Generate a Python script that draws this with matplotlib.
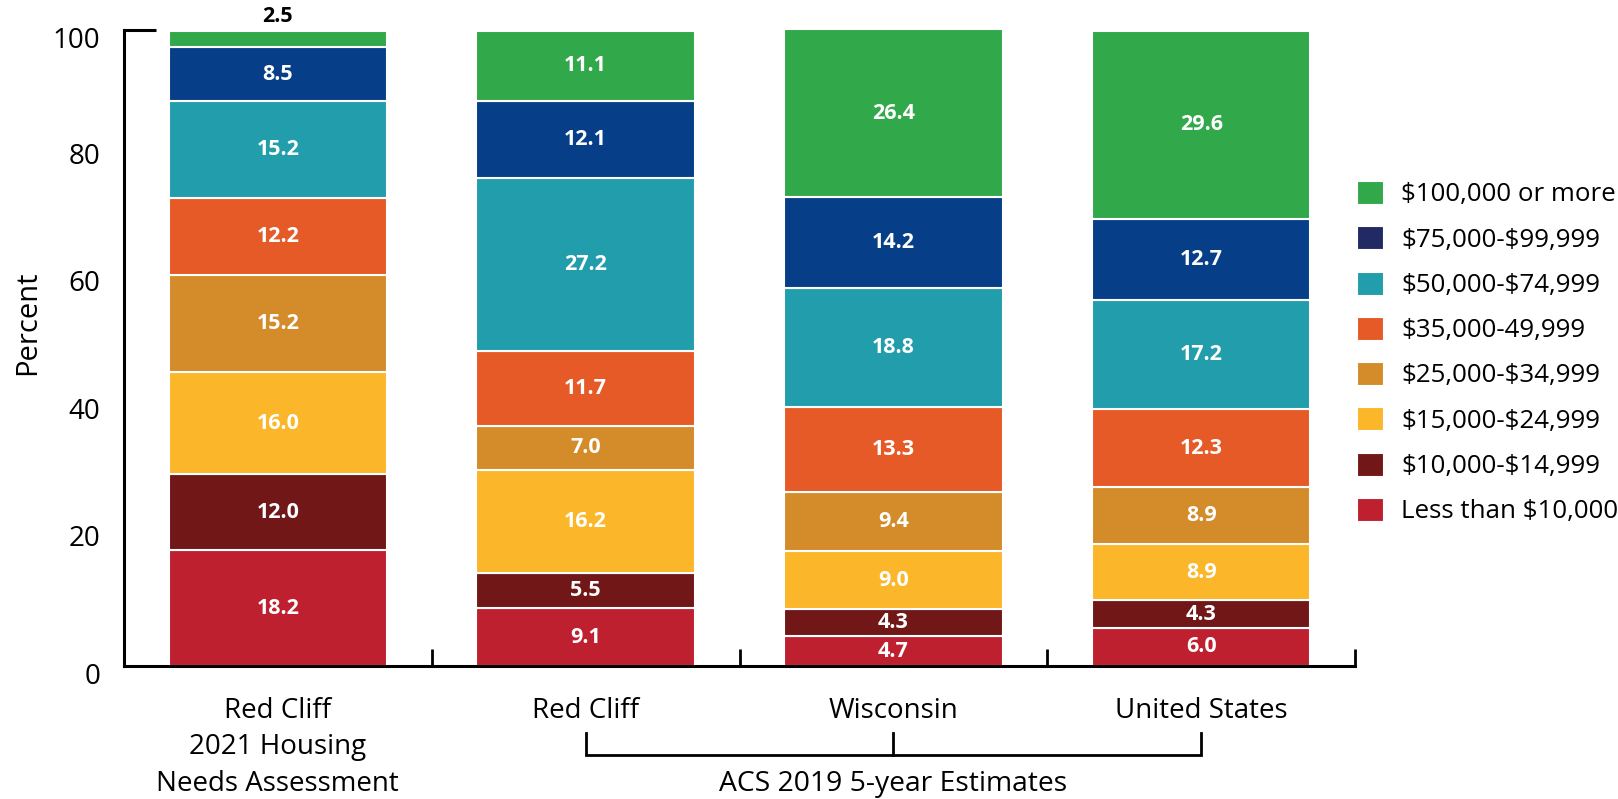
import matplotlib
matplotlib.use("Agg")
import matplotlib.pyplot as plt
from matplotlib.patches import Patch
from matplotlib.transforms import offset_copy, blended_transform_factory
import numpy as np

plt.rcParams['font.family'] = ['Open Sans', 'DejaVu Sans']

categories = ["Red Cliff\n2021 Housing\nNeeds Assessment", "Red Cliff", "Wisconsin", "United States"]
income_groups = ["Less than $10,000", "$10,000-$14,999", "$15,000-$24,999", "$25,000-$34,999",
                 "$35,000-49,999", "$50,000-$74,999", "$75,000-$99,999", "$100,000 or more"]
less_10k = [18.2, 9.1, 4.7, 6.0]
inc_10_15k = [12.0, 5.5, 4.3, 4.3]
inc_15_25k = [16.0, 16.2, 9.0, 8.9]
inc_25_35k = [15.2, 7.0, 9.4, 8.9]
inc_35_50k = [12.2, 11.7, 13.3, 12.3]
inc_50_75k = [15.2, 27.2, 18.8, 17.2]
inc_75_100k = [8.5, 12.1, 14.2, 12.7]
over_100k = [2.5, 11.1, 26.4, 29.6]
series = [less_10k, inc_10_15k, inc_15_25k, inc_25_35k, inc_35_50k, inc_50_75k, inc_75_100k, over_100k]
bar_colors = ["#be2030", "#711718", "#fbb62a", "#d48b2a", "#e55a26", "#219dab", "#063f87", "#31a84a"]
legend_colors = ["#be2030", "#711718", "#fbb62a", "#d48b2a", "#e55a26", "#219dab", "#222a63", "#31a84a"]
y_ticks = [0, 20, 40, 60, 80, 100]
group_label = "ACS 2019 5-year Estimates"

fig = plt.figure(figsize=(16.18, 7.99), dpi=100)
ax = fig.add_axes([0.0766, 0.1665, 0.8375 - 0.0766, 0.9625 - 0.1665])

x = np.arange(len(categories))
bottom = np.zeros(len(categories))
for vals, col in zip(series, bar_colors):
    vals = np.array(vals)
    ax.bar(x, vals, bottom=bottom, width=0.71, color=col, edgecolor="white", linewidth=1.5)
    for xi, v, b in zip(x, vals, bottom):
        if v < 4:
            ax.annotate(f"{v:.1f}", (xi, b + v), xytext=(0, 3), textcoords="offset points",
                        ha="center", va="bottom", fontsize=15.5, fontweight="bold", color="black")
        else:
            ax.text(xi, b + v / 2, f"{v:.1f}", ha="center", va="center",
                    fontsize=15.5, fontweight="bold", color="white")
    bottom += vals

ax.set_xlim(-0.5, 3.5)
ax.set_ylim(0, 100)
for s in ["top", "right"]:
    ax.spines[s].set_visible(False)
for s in ["left", "bottom"]:
    ax.spines[s].set_linewidth(2.2)
    ax.spines[s].set_capstyle("projecting")

# x axis: category names, separators between bars
ax.set_xticks(x, categories, fontsize=20, linespacing=1.42)
ax.tick_params(axis="x", which="major", length=0, pad=22)
ax.set_xticks([0.5, 1.5, 2.5, 3.5], minor=True)
ax.tick_params(axis="x", which="minor", direction="in", length=12.5, width=2)

# y axis: labels drawn as text, a single cap tick at 100
ax.set_yticks([])
ax.set_yticks([100], minor=True)
ax.tick_params(axis="y", which="minor", direction="in", length=23, width=2.2, labelleft=False)
ytrans = blended_transform_factory(ax.transAxes, ax.transData)
for t in y_ticks:
    dy = -8 if t in (0, 100) else 0
    tr = offset_copy(ytrans, fig=fig, x=-17, y=dy, units="points")
    ax.text(0, t, str(t), transform=tr, ha="right", va="center", fontsize=20)
ax.text(-0.078, 0.539, "Percent", transform=ax.transAxes, rotation=90,
        ha="center", va="center", fontsize=21)

# bracket grouping the ACS bars
btrans = blended_transform_factory(ax.transData, fig.transFigure)
y_top = 1 - 733 / 799
y_bot = 1 - 755 / 799
ax.plot([1, 1, 3, 3], [y_top, y_bot, y_bot, y_top], transform=btrans, color="black",
        lw=2, clip_on=False, solid_joinstyle="miter")
ax.plot([2, 2], [y_bot, y_top], transform=btrans, color="black", lw=2, clip_on=False)
ax.text(2, 1 - 784 / 799, group_label, transform=btrans, ha="center", va="center", fontsize=20.3)

handles = [Patch(facecolor=c, edgecolor="white", linewidth=0.8) for c in legend_colors[::-1]]
leg = fig.legend(handles, income_groups[::-1], loc="upper left",
                 bbox_to_anchor=(1357 / 1618, 1 - 181 / 799),
                 frameon=False, fontsize=18.6, handlelength=1.0, handleheight=1.0, handletextpad=0.72,
                 labelspacing=0.73, borderpad=0, borderaxespad=0)
for t in leg.get_texts():
    t.set_parse_math(False)

fig.savefig("out.png", dpi=100)
